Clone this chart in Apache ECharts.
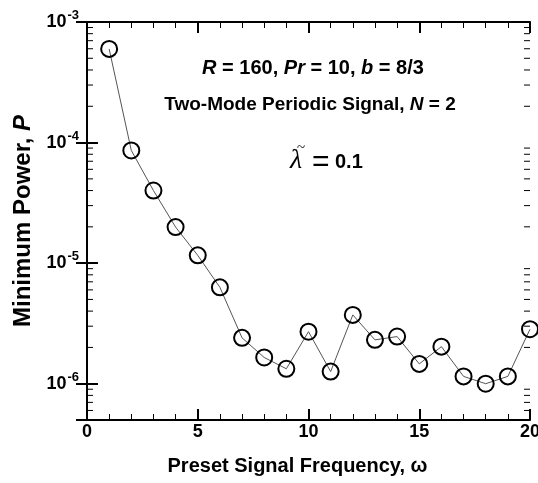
<!DOCTYPE html>
<html>
<head>
<meta charset="utf-8">
<script src="https://cdn.jsdelivr.net/npm/echarts@6/dist/echarts.min.js"></script>
<style>html,body{margin:0;padding:0;background:#fff;}#c{width:538px;height:483px;}</style>
</head>
<body>
<div id="c"></div>
<script>
// Data
const omega = [1,2,3,4,5,6,7,8,9,10,11,12,13,14,15,16,17,18,19,20];
const minPower = [5.98e-4, 8.6e-5, 4.0e-5, 1.99e-5, 1.16e-5, 6.3e-6, 2.40e-6, 1.65e-6, 1.33e-6, 2.70e-6,
                  1.26e-6, 3.72e-6, 2.31e-6, 2.46e-6, 1.46e-6, 2.03e-6, 1.15e-6, 1.0e-6, 1.15e-6, 2.83e-6];
const xTicks = [0, 5, 10, 15, 20];
const yMin = 5e-7, yMax = 1e-3;
// minor tick values on the log axis
const yMinorTicks = [];
for (let e = -7; e <= -4; e++) {
  for (let m = 2; m <= 9; m++) {
    const v = m * Math.pow(10, e);
    if (v > yMin * 1.0001 && v < yMax) yMinorTicks.push(v);
  }
}

const chart = echarts.init(document.getElementById('c'));
const FONT = 'Liberation Sans, Arial, sans-serif';
const SERIF = 'Liberation Serif, Times New Roman, serif';

function yLabel(v) {
  const l = Math.log10(v);
  const e = Math.round(l);
  if (Math.abs(l - e) > 1e-6) return '';
  return '{a|10}{s|' + e + '}';
}

const axisLineStyle = { color: '#000', width: 2 };

const option = {
  backgroundColor: '#fff',
  animation: false,
  grid: { left: 87, right: 8, top: 22, bottom: 63, containLabel: false, outerBoundsMode: 'none' },
  xAxis: [
    {
      type: 'value', min: 0, max: 20, interval: 5,
      axisLine: { show: true, lineStyle: axisLineStyle },
      axisTick: { show: true, inside: true, length: 11, lineStyle: { color: '#000', width: 2 } },
      minorTick: { show: true, splitNumber: 5, length: 6, lineStyle: { color: '#000', width: 1 } },
      splitLine: { show: false },
      axisLabel: { show: true, margin: 3, fontFamily: FONT, fontSize: 18, fontWeight: 'bold', color: '#000',
                   formatter: v => (xTicks.indexOf(v) >= 0 ? String(v) : '') },
      name: 'Preset Signal Frequency, ω',
      nameLocation: 'middle', nameGap: 36,
      nameTextStyle: { fontFamily: FONT, fontSize: 20, fontWeight: 'bold', color: '#000', padding: [0, 22, 0, 0] }
    },
    {
      type: 'value', min: 0, max: 20, interval: 5, position: 'top',
      axisLine: { show: true, lineStyle: axisLineStyle },
      axisTick: { show: true, inside: true, length: 11, lineStyle: { color: '#000', width: 2 } },
      minorTick: { show: true, splitNumber: 5, length: 6, lineStyle: { color: '#000', width: 1 } },
      splitLine: { show: false },
      axisLabel: { show: false }
    }
  ],
  yAxis: [
    {
      type: 'log', logBase: 10, min: yMin, max: yMax,
      axisLine: { show: true, lineStyle: axisLineStyle },
      axisTick: { show: true, inside: true, length: 11, lineStyle: { color: '#000', width: 2 } },
      minorTick: { show: false },
      splitLine: { show: false },
      axisLabel: {
        show: true, margin: 8, formatter: yLabel,
        rich: {
          a: { fontFamily: FONT, fontSize: 18, fontWeight: 'bold', color: '#000' },
          s: { fontFamily: FONT, fontSize: 13, fontWeight: 'bold', color: '#000', padding: [0, 0, 13, 1] }
        }
      },
      name: '{t|Minimum Power, }{i|P}',
      nameLocation: 'middle', nameGap: 50, nameRotate: 90,
      nameTextStyle: {
        rich: {
          t: { fontFamily: FONT, fontSize: 24, fontWeight: 'bold', color: '#000' },
          i: { fontFamily: FONT, fontSize: 24, fontWeight: 'bold', fontStyle: 'italic', color: '#000' }
        }
      }
    },
    {
      type: 'log', logBase: 10, min: yMin, max: yMax, position: 'right',
      axisLine: { show: true, lineStyle: axisLineStyle },
      axisTick: { show: true, inside: true, length: 11, lineStyle: { color: '#000', width: 2 } },
      minorTick: { show: false },
      splitLine: { show: false },
      axisLabel: { show: false }
    }
  ],
  series: [
    {
      type: 'custom',
      xAxisIndex: 0, yAxisIndex: 0,
      silent: true, clip: false, z: 1,
      data: yMinorTicks.map(v => [0, v]),
      renderItem: function (params, api) {
        const v = api.value(1);
        const p1 = api.coord([0, v]);
        const p2 = api.coord([20, v]);
        const st = { stroke: '#000', lineWidth: 1 };
        return {
          type: 'group',
          children: [
            { type: 'line', shape: { x1: p1[0], y1: p1[1], x2: p1[0] + 6, y2: p1[1] }, style: st },
            { type: 'line', shape: { x1: p2[0] - 6, y1: p2[1], x2: p2[0], y2: p2[1] }, style: st }
          ]
        };
      }
    },
    {
      type: 'line',
      xAxisIndex: 0, yAxisIndex: 0,
      data: omega.map((w, i) => [w, minPower[i]]),
      symbol: 'circle', symbolSize: 16, showSymbol: true,
      lineStyle: { color: '#555', width: 1 },
      itemStyle: { color: 'rgba(0,0,0,0)', borderColor: '#000', borderWidth: 2 },
      z: 3
    }
  ],
  graphic: [
    {
      type: 'text',
      style: {
        x: 313, y: 68, align: 'center', verticalAlign: 'middle',
        text: '{i|R}{t| = 160, }{i|Pr}{t| = 10, }{i|b}{t| = 8/3}',
        rich: {
          t: { fontFamily: FONT, fontSize: 20, fontWeight: 'bold', fill: '#000' },
          i: { fontFamily: FONT, fontSize: 20, fontWeight: 'bold', fontStyle: 'italic', fill: '#000' }
        }
      }
    },
    {
      type: 'text',
      style: {
        x: 310, y: 105, align: 'center', verticalAlign: 'middle',
        text: '{t|Two-Mode Periodic Signal, }{i|N}{t| = 2}',
        rich: {
          t: { fontFamily: FONT, fontSize: 19, fontWeight: 'bold', fill: '#000' },
          i: { fontFamily: FONT, fontSize: 19, fontWeight: 'bold', fontStyle: 'italic', fill: '#000' }
        }
      }
    },
    {
      type: 'text',
      style: { x: 290, y: 161, align: 'left', verticalAlign: 'middle', text: 'λ',
               fontFamily: SERIF, fontSize: 28, fontStyle: 'italic', fill: '#000' }
    },
    {
      type: 'text',
      style: { x: 301, y: 148, align: 'center', verticalAlign: 'middle', text: '~',
               fontFamily: SERIF, fontSize: 15, fill: '#000' }
    },
    {
      type: 'text',
      style: { x: 312, y: 163, align: 'left', verticalAlign: 'middle', text: '=',
               fontFamily: FONT, fontSize: 30, fill: '#000' }
    },
    {
      type: 'text',
      style: { x: 335, y: 162, align: 'left', verticalAlign: 'middle', text: '0.1',
               fontFamily: FONT, fontSize: 20, fontWeight: 'bold', fill: '#000' }
    }
  ]
};
chart.setOption(option);
</script>
</body>
</html>
